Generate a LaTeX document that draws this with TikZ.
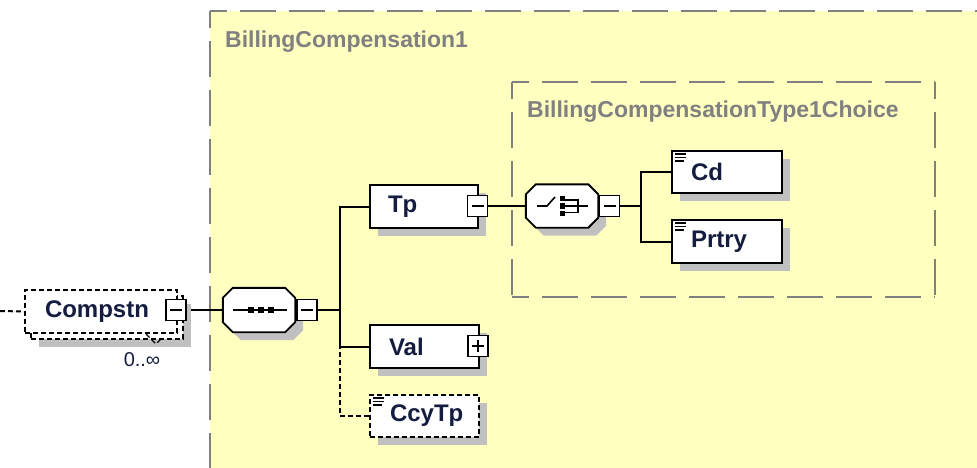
\documentclass[tikz,border=0pt]{standalone}
\usepackage{fontspec}
\setmainfont{Liberation Sans}
\usetikzlibrary{shadows}
\definecolor{bgyellow}{RGB}{255,255,192}
\definecolor{framegray}{RGB}{128,128,128}
\definecolor{shadowgray}{RGB}{192,192,192}
\definecolor{elemtext}{RGB}{20,28,64}
\pgfdeclarelayer{bg}
\pgfsetlayers{bg,main}
\begin{document}
\begin{tikzpicture}[x=1pt,y=-1pt,
  shadowed/.style={general shadow={fill=shadowgray, shadow xshift=8pt, shadow yshift=-8pt}},
  elembox/.style n args={3}{draw=black, fill=white, line width=1.9pt, minimum height=#3,
    inner xsep=#2, inner ysep=0pt, text width=#1, align=left,
    font=\bfseries\fontsize{24}{28}\selectfont, text=elemtext},
  optline/.style={dash pattern=on 5pt off 3pt},
  octnode/.style={rectangle, minimum width=72pt, minimum height=#1, inner sep=0pt},
  octpath/.style={insert path={([xshift=10pt]#1.north west) -- ([xshift=-10pt]#1.north east)
    -- ([yshift=-10pt]#1.north east) -- ([yshift=10pt]#1.south east) -- ([xshift=-10pt]#1.south east)
    -- ([xshift=10pt]#1.south west) -- ([yshift=10pt]#1.south west) -- ([yshift=-10pt]#1.north west) -- cycle}},
  btnminus/.style={draw=black, fill=white, line width=1.7pt, minimum width=20pt, minimum height=21pt, inner sep=0pt,
    path picture={\draw[line width=1.6pt] ([xshift=-6pt]path picture bounding box.center) -- ([xshift=6pt]path picture bounding box.center);}},
  btnplus/.style={draw=black, fill=white, line width=1.7pt, minimum width=20pt, minimum height=21pt, inner sep=0pt,
    path picture={\draw[line width=1.6pt] ([xshift=-6pt]path picture bounding box.center) -- ([xshift=6pt]path picture bounding box.center)
      ([yshift=-6pt]path picture bounding box.center) -- ([yshift=6pt]path picture bounding box.center);}},
  frame/.style={draw=framegray, line width=2.2pt, dash pattern=on 36pt off 13pt, dash phase=19pt},
  grouplabel/.style={font=\bfseries\fontsize{23}{27}\selectfont, text=framegray, inner sep=0pt},
  conn/.style={draw=black, line width=2pt},
  icon/.style={draw=black, line width=1.6pt}
]
\useasboundingbox (0,0) rectangle (977,468);

% ---------- element nodes ----------
\node[elembox={112pt}{20pt}{43pt}, optline, shadowed] (CompstnBack) at (107,317.5) {\phantom{Compstn}};
\node[elembox={112pt}{20pt}{43pt}, optline] (Compstn) at (101,311.5) {Compstn};
\node[btnminus] (Cminus) at (176,310) {};
\node[anchor=center, font=\fontsize{20}{22}\selectfont, text=elemtext, inner sep=0pt] (occ) at (142,360) {0..∞};

\node[octnode=44pt] (seq) at (259,310) {};
\fill[shadowgray, transform canvas={shift={(8,8)}}] [octpath=seq];
\draw[black, fill=white, line width=1.9pt] [octpath=seq];
\node[btnminus] (seqm) at (307,310) {};

\node[elembox={72pt}{18pt}{43pt}, shadowed] (Tp) at (424,206.5) {Tp};
\node[btnminus] (Tpm) at (477.5,206) {};

\node[octnode=43pt] (ch) at (562,206) {};
\fill[shadowgray, transform canvas={shift={(8,8)}}] [octpath=ch];
\draw[black, fill=white, line width=1.9pt] [octpath=ch];
\node[btnminus] (chm) at (609.5,206) {};

\node[elembox={72pt}{19pt}{42pt}, shadowed] (Cd) at (727,172) {Cd};
\node[elembox={72pt}{19pt}{43pt}, shadowed] (Prtry) at (727,241.5) {Prtry};

\node[elembox={71pt}{19pt}{43pt}, shadowed] (Val) at (424.5,346.5) {Val};
\node[btnplus] (Valp) at (478,346) {};

\node[elembox={69pt}{20pt}{42pt}, optline, shadowed] (CcyTp) at (424.5,416) {CcyTp};

% ---------- icons ----------
% sequence icon
\draw[icon] (233,310) -- (287,310);
\foreach \xx in {250.5,260.5,270.5} \fill (\xx-3,307) rectangle (\xx+3,313);
% choice icon
\draw[icon] (537,206) -- (547,206) -- (555,197);
\foreach \yy in {198.5,206,213.5} \fill (559.7,\yy-2.8) rectangle (565.3,\yy+2.8);
\draw[icon] (565,200) -- (578,200) -- (578,212.5) -- (565,212.5);
\draw[icon] (565,206) -- (588,206);
% simple-content icons
\foreach \n in {Cd,Prtry,CcyTp}{
  \draw[line width=1.4pt] ([shift={(4,4)}]\n.north west) -- ([shift={(15,4)}]\n.north west);
  \draw[line width=1.4pt] ([shift={(4,7.5)}]\n.north west) -- ([shift={(15,7.5)}]\n.north west);
  \draw[line width=1.4pt] ([shift={(4,11)}]\n.north west) -- ([shift={(13,11)}]\n.north west);
}
% occurrence hint
\draw[line width=1.4pt, optline] (146,334) -- (156,344) -- (162,338);

% ---------- background layer ----------
\begin{pgfonlayer}{bg}
  \fill[bgyellow] (210,11) rectangle (977,468);
  \draw[frame] (210,11) -- (977,11);
  \draw[frame] (210,11) -- (210,468);
  \draw[frame] (512,82) -- (935,82);
  \draw[frame] (512,82) -- (512,297);
  \draw[frame] (512,297) -- (935,297);
  \draw[frame] (935,82) -- (935,297);
  \node[grouplabel, anchor=base west] (lblOuter) at (225,48) {BillingCompensation1};
  \node[grouplabel, anchor=base west] (lblInner) at (527,118) {BillingCompensationType1Choice};

  \coordinate (j1) at (340,310);
  \coordinate (j2) at (641,206);
  \draw[conn, optline] (0,311) -- (Compstn.west);
  \draw[conn] (Cminus.east) -- (seq.west);
  \draw[conn] (seqm.east) -- (j1);
  \draw[conn] (Tp.west) -| (j1);
  \draw[conn] (Val.west) -| (j1);
  \draw[conn, optline] (CcyTp.west) -| (Val.west -| j1);
  \draw[conn] (Tpm.east) -- (ch.west);
  \draw[conn] (chm.east) -- (j2);
  \draw[conn] (Cd.west) -| (j2);
  \draw[conn] (Prtry.west) -| (j2);
\end{pgfonlayer}
\end{tikzpicture}
\end{document}
